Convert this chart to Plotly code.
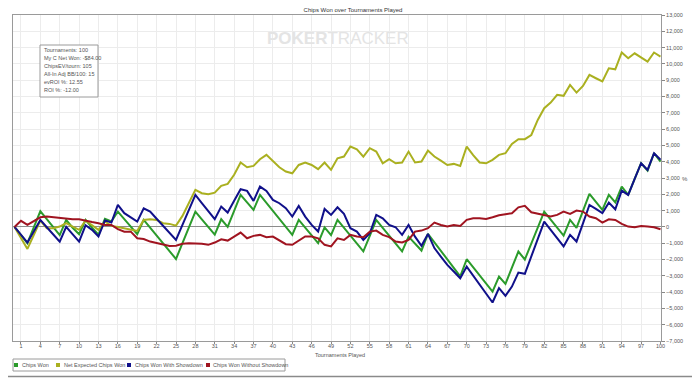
import plotly.graph_objects as go

# ---------------- data ----------------
tournaments = list(range(0, 101))

chips_won = [0, -500, -1000, -20, 960, 480, 0, -500, 430, -50,
             -450, 430, -50, -480, 500, 330, 940, 460, -20, -450,
             430, -50, -530, -1010, -1490, -1970, -1000, -20, 940, 460,
             -20, -480, 470, 0, 980, 1960, 1500, 1040, 1960, 1470,
             980, 490, 0, -490, 430, -60, -550, -1000, -30, -500,
             430, -60, -550, -1040, -1500, -550, 430, -60, -550, -1040,
             -1500, -600, -1050, -1450, -430, -950, -1470, -1990, -2510, -3030,
             -1984, -2480, -2970, -3470, -3967, -3047, -3500, -2500, -1513, -2000,
             -1020, -40, 940, 450, -40, -530, 430, -60, 980, 2025,
             1535, 1043, 1963, 1500, 2474, 1963, 2940, 3906, 3450, 4520, 4008]

net_expected = [0, -700, -1350, -480, 390, -80, -80, 20, 225, 20,
                -180, 390, 100, -180, 330, 60, 0, -80, -140, -245,
                430, 470, 430, 225, 184, 80, 675, 1500, 2270, 2065,
                2000, 2100, 2515, 2640, 3200, 3950, 3660, 3740, 4150, 4420,
                4010, 3660, 3400, 3290, 3800, 3950, 3800, 3540, 3950, 3500,
                4210, 4315, 4930, 4760, 4315, 4830, 4620, 3900, 4150, 3900,
                3950, 4620, 3950, 4010, 4680, 4315, 4070, 3800, 3865, 3740,
                4930, 4400, 3950, 3900, 4110, 4420, 4520, 5090, 5380, 5380,
                5640, 6560, 7280, 7630, 8100, 8040, 8710, 8240, 8650, 9325,
                9120, 8920, 9730, 9670, 10700, 10350, 10650, 10400, 10140, 10700, 10450]

won_showdown = [0, -480, -960, -260, 430, -20, -460, -900, 0, -420,
                -900, 100, -180, -590, 400, 266, 1350, 840, 580, 327,
                1145, 940, 500, 60, -380, -800, 120, 1050, 1963, 1460,
                960, 470, 1250, 880, 1600, 2311, 2210, 1595, 2474, 2210,
                1656, 1452, 1145, 634, 1288, 634, 123, -286, 1104, 736,
                1206, 800, -80, -286, -800, -390, 736, 530, 120, -20,
                -490, 120, -600, -1160, -430, -1300, -1820, -2330, -2740, -3150,
                -2434, -2980, -3530, -4080, -4640, -3760, -4230, -3660, -2800, -2880,
                -1800, -740, 327, -180, -690, -1200, -490, -900, 220, 1350,
                1100, 840, 1490, 1080, 2230, 1963, 2940, 3906, 3500, 4520, 4120]

won_no_showdown = [0, 370, 120, 330, 590, 630, 590, 530, 500, 470,
                   470, 370, 300, 225, 120, 120, -140, -290, -290, -700,
                   -740, -900, -1000, -1100, -1170, -1150, -1040, -1000, -1000, -1040,
                   -1100, -960, -760, -840, -600, -350, -700, -550, -490, -630,
                   -590, -840, -1060, -1100, -860, -590, -590, -700, -1100, -1200,
                   -700, -800, -490, -590, -630, -290, -225, -490, -630, -900,
                   -960, -800, -290, -225, -80, 265, 120, 20, 120, 60,
                   430, 530, 530, 490, 590, 715, 777, 840, 1200, 1290,
                   900, 800, 736, 634, 736, 940, 800, 1000, 940, 634,
                   530, 265, 470, 430, 185, 20, -20, 60, 20, -20, -140]

series_names = ["Chips Won", "Net Expected Chips Won",
                "Chips Won With Showdown", "Chips Won Without Showdown"]
series_values = [chips_won, net_expected, won_showdown, won_no_showdown]
series_colors = ["#2b9b2b", "#aab020", "#10108a", "#a01420"]

x_tick_vals = list(range(1, 101, 3))
y_tick_vals = list(range(-7000, 13001, 1000))

info_lines = ["Tournaments: 100", "My C Net Won: -$84.00", "ChipsEV/tourn: 105",
              "All-In Adj BB/100: 15", "evROI %: 12.55", "ROI %: -12.00"]

# ---------------- layout geometry (page pixels) ----------------
PAGE_W, PAGE_H = 700, 378
OFF = 8                       # default body margin of the html page
FIG_W, FIG_H = PAGE_W - OFF, PAGE_H - OFF
L, R, T, B = 13, 661, 15, 341  # plot area in page pixels
PW, PH = R - L, B - T


def px(x):
    return (x - L) / PW


def py(y):
    return (B - y) / PH


FONT = "Liberation Sans, Arial, sans-serif"
GRAY = "#555555"

fig = go.Figure()
for name, vals, col in zip(series_names, series_values, series_colors):
    fig.add_trace(go.Scatter(x=tournaments, y=vals, mode="lines", name=name,
                             line=dict(color=col, width=2), showlegend=False,
                             hoverinfo="skip"))

# x range so that t=0 sits at pixel 14.5 and t=100 at pixel ~660.5
x0 = -1.5 / 6.46
x1 = x0 + PW / 6.46

annotations = []
shapes = []

# info box
shapes.append(dict(type="rect", xref="paper", yref="paper",
                   x0=px(40), x1=px(98), y0=py(97), y1=py(45),
                   line=dict(color="#9a9a9a", width=1), fillcolor="white"))
for i, line in enumerate(info_lines):
    annotations.append(dict(xref="paper", yref="paper", x=px(41.5), y=py(50 + 8 * i),
                            xanchor="left", yanchor="middle", showarrow=False,
                            text=line, font=dict(family=FONT, size=5.5, color=GRAY)))

# watermark
annotations.append(dict(xref="paper", yref="paper", x=px(338), y=py(38),
                        xanchor="center", yanchor="middle", showarrow=False,
                        text="<b>POKER</b>TRACKER",
                        font=dict(family=FONT, size=17, color="#e4e4e4")))

# "%" axis label
annotations.append(dict(xref="paper", yref="paper", x=px(685), y=py(179),
                        xanchor="center", yanchor="middle", showarrow=False,
                        text="%", font=dict(family=FONT, size=6, color=GRAY)))

# x axis title
annotations.append(dict(xref="paper", yref="paper", x=px(340), y=py(354.5),
                        xanchor="center", yanchor="middle", showarrow=False,
                        text="Tournaments Played",
                        font=dict(family=FONT, size=5.5, color=GRAY)))

# custom legend
legend_marker_x = [16, 58, 129, 208]
shapes.append(dict(type="rect", xref="paper", yref="paper",
                   x0=px(13), x1=px(285), y0=py(371), y1=py(359),
                   line=dict(color="#9a9a9a", width=1), fillcolor="white"))
for name, col, mx in zip(series_names, series_colors, legend_marker_x):
    shapes.append(dict(type="rect", xref="paper", yref="paper",
                       x0=px(mx - 2), x1=px(mx + 2), y0=py(367), y1=py(363),
                       line=dict(color=col, width=0), fillcolor=col))
    annotations.append(dict(xref="paper", yref="paper", x=px(mx + 3.5), y=py(365),
                            xanchor="left", yanchor="middle", showarrow=False,
                            text=name, font=dict(family=FONT, size=5.5, color=GRAY)))

# right and bottom edges of the image frame
shapes.append(dict(type="line", xref="paper", yref="paper",
                   x0=px(698.5), x1=px(698.5), y0=py(377), y1=py(8),
                   line=dict(color="#8a8a8a", width=1.5)))
shapes.append(dict(type="line", xref="paper", yref="paper",
                   x0=px(8), x1=px(699), y0=py(376.5), y1=py(376.5),
                   line=dict(color="#8a8a8a", width=1.5)))

fig.update_layout(
    width=FIG_W, height=FIG_H,
    margin=dict(l=L - OFF, r=FIG_W - (R - OFF), t=T - OFF, b=FIG_H - (B - OFF),
                pad=0, autoexpand=False),
    paper_bgcolor="white", plot_bgcolor="white",
    showlegend=False,
    title=dict(text="Chips Won over Tournaments Played", x=(353 - OFF) / FIG_W,
               xref="container", y=1 - (10 - OFF) / FIG_H, yref="container",
               xanchor="center", yanchor="middle",
               font=dict(family=FONT, size=6, color="#333333")),
    xaxis=dict(range=[x0, x1], tickmode="array", tickvals=x_tick_vals,
               ticks="outside", ticklen=2, tickcolor="#888888",
               ticklabelstandoff=-3,
               showgrid=True, gridcolor="#ececec", gridwidth=1,
               zeroline=False, showline=True, linecolor="#9a9a9a", linewidth=1, mirror=True,
               automargin=False,
               tickfont=dict(family=FONT, size=5.5, color=GRAY)),
    yaxis=dict(range=[-7000, 13000], side="right", tickmode="array", tickvals=y_tick_vals,
               tickformat=",", ticks="outside", ticklen=3, tickcolor="#888888",
               showgrid=True, gridcolor="#ececec", gridwidth=1,
               zeroline=True, zerolinecolor="#8c8c8c", zerolinewidth=1,
               showline=True, linecolor="#9a9a9a", linewidth=1, mirror=True,
               automargin=False,
               tickfont=dict(family=FONT, size=5.5, color=GRAY)),
    annotations=annotations, shapes=shapes,
)

fig.write_html("out.html")
